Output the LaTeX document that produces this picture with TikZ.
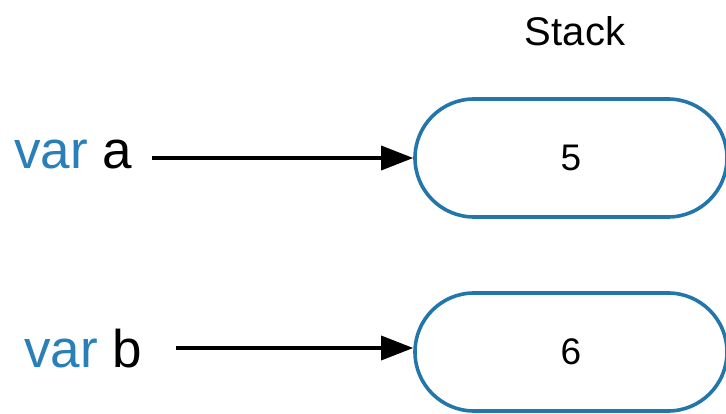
\documentclass[tikz,border=0pt]{standalone}
\usepackage{fontspec}
\setmainfont{Liberation Sans}
\usetikzlibrary{arrows.meta,shapes.misc}
\definecolor{varblue}{RGB}{41,128,185}
\definecolor{cellblue}{RGB}{34,118,170}
\tikzset{
  cell/.style={draw=cellblue,line width=3.6pt,rounded rectangle,minimum width=312pt,minimum height=118pt,inner sep=0pt,font=\fontsize{37}{40}\selectfont},
  varname/.style={anchor=base west,inner sep=0pt,font=\fontsize{53}{58}\selectfont},
  ptr/.style={line width=3.4pt,-{Triangle[length=32pt,width=24pt]}}
}
\begin{document}
\begin{tikzpicture}[x=1pt,y=-1pt]
\useasboundingbox (0,0) rectangle (726,414);
\node[anchor=base,font=\fontsize{40}{44}\selectfont] (stack) at (575,46) {Stack};
\node[cell] (cella) at (571,158) {5};
\node[cell] (cellb) at (571,352) {6};
\node[varname] (vara) at (14,169) {\textcolor{varblue}{var} a};
\node[varname] (varb) at (24,367) {\textcolor{varblue}{var} b};
\draw[ptr] ([xshift=20pt]cella.west -| vara.east) -- (cella.west);
\draw[ptr] ([xshift=34pt,yshift=4pt]cellb.west -| varb.east) -- ([yshift=4pt]cellb.west);
\end{tikzpicture}
\end{document}
